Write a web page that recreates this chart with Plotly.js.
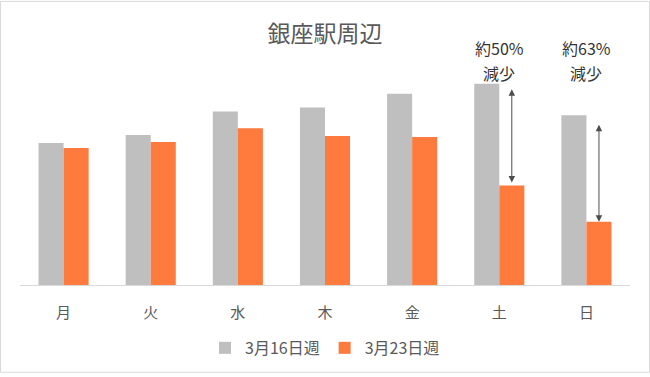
<!DOCTYPE html>
<html>
<head>
<meta charset="utf-8">
<script src="https://cdn.plot.ly/plotly-3.0.1.min.js"></script>
<style>html,body{margin:0;padding:0;background:#fff;}#chart{width:650px;height:377px;}</style>
</head>
<body>
<div id="chart"></div>
<script>
const days = ['月','火','水','木','金','土','日'];
const week0316 = [144, 152, 176, 180, 194, 204, 172];
const week0323 = [139, 145, 159, 151, 150, 101, 64];
const seriesNames = ['3月16日週', '3月23日週'];
const notes = [
  {day: 5, pct: '約50%', word: '減少'},
  {day: 6, pct: '約63%', word: '減少'}
];

const FONT = '"Noto Sans CJK JP", "Noto Sans", sans-serif';
const TXT = '#595959';
const bargap = 0.425;
const off = (1 - bargap) / 4;   // centre offset of second bar in a group

const traces = [
  {type: 'bar', name: seriesNames[0], x: days, y: week0316, marker: {color: '#bfbfbf'}, hoverinfo: 'skip'},
  {type: 'bar', name: seriesNames[1], x: days, y: week0323, marker: {color: '#ff7a3d'}, hoverinfo: 'skip'}
];

const annotations = [];
const startStand = [4, 8];
const endStand = [3, 0];
notes.forEach((n, k) => {
  const i = n.day;
  annotations.push({x: i, y: 1.091, xref: 'x', yref: 'paper', text: n.pct, showarrow: false,
    font: {family: FONT, size: 16, color: '#333333'}, xanchor: 'center', yanchor: 'middle'});
  annotations.push({x: i, y: 0.977, xref: 'x', yref: 'paper', text: n.word, showarrow: false,
    font: {family: FONT, size: 16, color: '#333333'}, xanchor: 'center', yanchor: 'middle'});
  annotations.push({x: i + off, y: week0323[i], xref: 'x', yref: 'y',
    ax: i + off, ay: week0316[i], axref: 'x', ayref: 'y', text: '',
    showarrow: true, arrowside: 'end+start', arrowhead: 2, startarrowhead: 2,
    arrowsize: 1.3, startarrowsize: 1.3, arrowwidth: 1, arrowcolor: '#4d4d4d',
    standoff: endStand[k], startstandoff: startStand[k]});
});

const layout = {
  width: 650, height: 377,
  margin: {l: 20, r: 20, t: 68, b: 89},
  paper_bgcolor: '#ffffff', plot_bgcolor: '#ffffff',
  font: {family: FONT, color: TXT},
  title: {text: '銀座駅周辺', x: 0.5, xanchor: 'center', y: 0.91, yref: 'container', yanchor: 'middle',
    font: {family: FONT, size: 23, color: TXT}},
  barmode: 'group', bargap: bargap, bargroupgap: 0,
  showlegend: true,
  legend: {orientation: 'h', x: 0.5, xanchor: 'center', y: -0.29, yanchor: 'middle',
    font: {family: FONT, size: 16, color: TXT}, itemwidth: 30, traceorder: 'normal'},
  xaxis: {type: 'category', showline: true, linecolor: '#d9d9d9', linewidth: 1,
    ticks: '', ticklabelstandoff: 14, tickfont: {family: FONT, size: 15, color: TXT},
    showgrid: false, zeroline: false, fixedrange: true},
  yaxis: {range: [0, 220], visible: false, showgrid: false, zeroline: false, fixedrange: true},
  annotations: annotations,
  shapes: [{type: 'rect', xref: 'paper', yref: 'paper',
    x0: (0.5 - 20) / 610, x1: (649.5 - 20) / 610, y0: (288 - 376.5) / 220, y1: (288 - 0.5) / 220,
    line: {color: '#d9d9d9', width: 1}, layer: 'below'}]
};

Plotly.newPlot('chart', traces, layout, {displayModeBar: false, staticPlot: true});
</script>
</body>
</html>
